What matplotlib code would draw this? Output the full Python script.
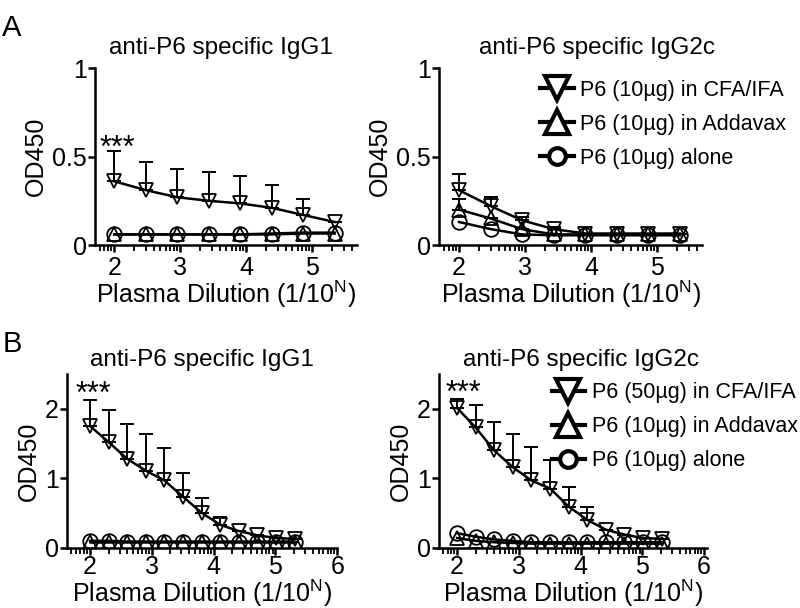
import numpy as np
import matplotlib
matplotlib.use("Agg")
import matplotlib.pyplot as plt
from matplotlib.lines import Line2D

plt.rcParams["font.family"] = ["Liberation Sans", "DejaVu Sans"]
plt.rcParams["mathtext.fontset"] = "custom"
plt.rcParams["mathtext.rm"] = "Liberation Sans"

# ---- data ----
# panel A: 3-fold dilutions, log10 of dilution factor
xa = [2.0, 2.48, 2.95, 3.43, 3.91, 4.39, 4.86, 5.34]
# panel B: 2-fold dilutions
xb = [2.0, 2.30, 2.60, 2.90, 3.20, 3.51, 3.81, 4.11, 4.41, 4.71, 5.01, 5.31]

a1_cfa = [0.36, 0.31, 0.27, 0.25, 0.235, 0.21, 0.17, 0.13]
a1_cfa_err = [0.17, 0.16, 0.16, 0.16, 0.155, 0.13, 0.09, 0.0]
a1_add = [0.06, 0.06, 0.06, 0.06, 0.06, 0.06, 0.065, 0.065]
a1_alone = [0.06, 0.06, 0.06, 0.06, 0.06, 0.065, 0.07, 0.07]

a2_cfa = [0.31, 0.22, 0.14, 0.09, 0.065, 0.065, 0.065, 0.065]
a2_cfa_err = [0.09, 0.05, 0.02, 0.01, 0.0, 0.0, 0.0, 0.0]
a2_add = [0.20, 0.15, 0.09, 0.06, 0.06, 0.06, 0.06, 0.06]
a2_add_err = [0.06, 0.0, 0.0, 0.0, 0.0, 0.0, 0.0, 0.0]
a2_alone = [0.13, 0.09, 0.06, 0.055, 0.055, 0.055, 0.055, 0.055]

b1_cfa = [1.75, 1.52, 1.28, 1.11, 0.97, 0.73, 0.50, 0.33, 0.24, 0.18, 0.14, 0.13]
b1_cfa_err = [0.37, 0.46, 0.50, 0.52, 0.47, 0.35, 0.22, 0.12, 0.0, 0.0, 0.0, 0.0]
b1_add = [0.08, 0.08, 0.08, 0.08, 0.08, 0.08, 0.08, 0.08, 0.08, 0.08, 0.08, 0.08]
b1_alone = [0.10, 0.10, 0.09, 0.09, 0.09, 0.09, 0.09, 0.09, 0.09, 0.09, 0.09, 0.09]

b2_cfa = [2.01, 1.73, 1.40, 1.16, 0.97, 0.85, 0.59, 0.40, 0.26, 0.19, 0.14, 0.13]
b2_cfa_err = [0.13, 0.32, 0.41, 0.48, 0.48, 0.41, 0.28, 0.18, 0.0, 0.0, 0.0, 0.0]
b2_add = [0.14, 0.10, 0.08, 0.07, 0.06, 0.06, 0.06, 0.06, 0.06, 0.06, 0.06, 0.06]
b2_alone = [0.21, 0.16, 0.12, 0.10, 0.08, 0.08, 0.08, 0.08, 0.08, 0.08, 0.08, 0.08]

legend_a = ["P6 (10µg) in CFA/IFA", "P6 (10µg) in Addavax", "P6 (10µg) alone"]
legend_b = ["P6 (50µg) in CFA/IFA", "P6 (10µg) in Addavax", "P6 (10µg) alone"]

FS_TITLE = 17.5
FS_LABEL = 18
FS_TICK = 18
XLABEL = r"Plasma Dilution (1/10$^{\mathrm{N}}$)"


def draw_series(ax, x, y, marker, err=None):
    ax.plot(x, y, color="black", lw=1.8, zorder=2)
    if err is not None:
        ax.errorbar(x, y, yerr=[np.zeros(len(err)), err], fmt="none",
                    ecolor="black", elinewidth=1.4, capsize=5, capthick=1.4, zorder=1)
    ax.plot(x, y, ls="none", marker=marker, ms=10.5, mfc="none", mec="black",
            mew=1.3, zorder=3)


def style_axes(ax, xlim, ylim, yticks, ylabels, xmaj, xpad):
    ax.set_xlim(*xlim)
    ax.set_ylim(*ylim)
    for s in ["top", "right"]:
        ax.spines[s].set_visible(False)
    for s in ["left", "bottom"]:
        ax.spines[s].set_linewidth(1.8)
    ax.set_yticks(yticks)
    ax.set_yticklabels(ylabels)
    ax.set_xticks(xmaj)
    minors = [n + np.log10(k) for n in range(1, 7) for k in range(2, 10)]
    minors = [m for m in minors if xlim[0] <= m <= xlim[1]]
    ax.set_xticks(minors, minor=True)
    ax.tick_params(axis="both", which="major", labelsize=FS_TICK, length=5, width=1.8, pad=1)
    ax.tick_params(axis="x", which="major", pad=xpad)
    ax.tick_params(axis="x", which="minor", length=4, width=1.3)
    ax.set_xlabel(XLABEL, fontsize=FS_LABEL, labelpad=-1)
    ax.set_ylabel("OD450", fontsize=FS_LABEL, labelpad=3)


def add_legend(ax, labels, anchor):
    handles = [
        Line2D([], [], color="black", lw=3, marker="v", ms=17, mfc="white", mec="black", mew=3),
        Line2D([], [], color="black", lw=3, marker="^", ms=17, mfc="white", mec="black", mew=3),
        Line2D([], [], color="black", lw=3, marker="o", ms=12, mfc="white", mec="black", mew=3),
    ]
    ax.legend(handles, labels, loc="upper left", bbox_to_anchor=anchor, frameon=False,
              fontsize=15.5, handlelength=1.55, handletextpad=0.3, labelspacing=0.6,
              borderaxespad=0, borderpad=0)


def stars(ax, x, y):
    ax.text(x, y, "***", ha="center", va="baseline", fontsize=22)


fig = plt.figure(figsize=(8, 6.08), dpi=100)

# ---- A left ----
ax = fig.add_axes([0.119, 0.597, 0.3275, 0.291])
draw_series(ax, xa, a1_add, "^")
draw_series(ax, xa, a1_alone, "o")
draw_series(ax, xa, a1_cfa, "v", a1_cfa_err)
style_axes(ax, (1.71, 5.68), (0, 1), [0, 0.5, 1], ["0", "0.5", "1"], [2, 3, 4, 5], 3)
ax.set_title("anti-P6 specific IgG1", fontsize=FS_TITLE, x=0.48, pad=10)
stars(ax, 2.04, 0.50)

# ---- A right ----
ax = fig.add_axes([0.549, 0.597, 0.329, 0.291])
draw_series(ax, xa, a2_alone, "o")
draw_series(ax, xa, a2_add, "^", a2_add_err)
draw_series(ax, xa, a2_cfa, "v", a2_cfa_err)
style_axes(ax, (1.70, 5.68), (0, 1), [0, 0.5, 1], ["0", "0.5", "1"], [2, 3, 4, 5], 3)
ax.set_title("anti-P6 specific IgG2c", fontsize=FS_TITLE, x=0.6, pad=10)
add_legend(ax, legend_a, (0.384, 0.933))

# ---- B left ----
ax = fig.add_axes([0.084, 0.099, 0.3375, 0.286])
draw_series(ax, xb, b1_add, "^")
draw_series(ax, xb, b1_alone, "o")
draw_series(ax, xb, b1_cfa, "v", b1_cfa_err)
style_axes(ax, (1.63, 6.0), (0, 2.5), [0, 1, 2], ["0", "1", "2"], [2, 3, 4, 5, 6], 0)
ax.set_title("anti-P6 specific IgG1", fontsize=FS_TITLE, x=0.5, pad=6)
stars(ax, 2.06, 2.08)

# ---- B right ----
ax = fig.add_axes([0.549, 0.099, 0.335, 0.286])
draw_series(ax, xb, b2_add, "^")
draw_series(ax, xb, b2_alone, "o")
draw_series(ax, xb, b2_cfa, "v", b2_cfa_err)
style_axes(ax, (1.71, 6.05), (0, 2.5), [0, 1, 2], ["0", "1", "2"], [2, 3, 4, 5, 6], 0)
ax.set_title("anti-P6 specific IgG2c", fontsize=FS_TITLE, x=0.53, pad=6)
stars(ax, 2.1, 2.10)
add_legend(ax, legend_b, (0.42, 0.952))

fig.text(0.003, 0.977, "A", fontsize=21, va="top", ha="left")
fig.text(0.003, 0.458, "B", fontsize=21, va="top", ha="left")

fig.savefig("out.png", dpi=100)
